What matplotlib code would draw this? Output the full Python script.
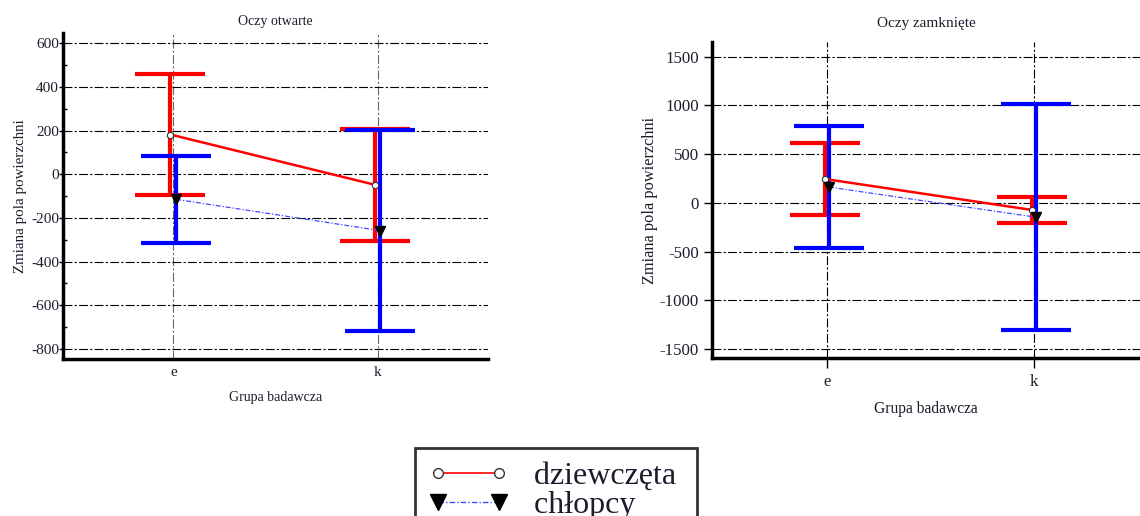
import matplotlib

matplotlib.use("Agg")
import matplotlib.pyplot as plt
from matplotlib.lines import Line2D
from matplotlib.ticker import MultipleLocator

plt.rcParams["font.family"] = ["Liberation Serif", "DejaVu Serif"]
plt.rcParams["axes.unicode_minus"] = False

# data
groups = ["e", "k"]

# Oczy otwarte (eyes open)
open_girls_mean = [182, -48]
open_girls_err = [277, 256]
open_boys_mean = [-115, -258]
open_boys_err = [201, 461]

# Oczy zamknięte (eyes closed)
closed_girls_mean = [246, -73]
closed_girls_err = [371, 137]
closed_boys_mean = [163, -147]
closed_boys_err = [626, 1158]

TEXT = "#1c1c2c"
RED = "#ff0000"
BLUE = "#0000ff"
BOYS_LS = (0, (4, 1.5, 1, 1.5))


def draw_panel(ax, g_mean, g_err, b_mean, b_err, off, vgrid_color, fs):
    x = [1, 2]
    xg = [v - off for v in x]
    xb = [v + off for v in x]
    ax.errorbar(xg, g_mean, yerr=g_err, fmt="none", ecolor=RED, elinewidth=3,
                capsize=25, capthick=3, zorder=3)
    ax.errorbar(xb, b_mean, yerr=b_err, fmt="none", ecolor=BLUE, elinewidth=3,
                capsize=25, capthick=3, zorder=3)
    ax.plot(xg, g_mean, color=RED, lw=1.8, zorder=4)
    ax.plot(xb, b_mean, color="#4848ff", lw=0.9, ls=BOYS_LS, zorder=4)
    ax.plot(xg, g_mean, ls="none", marker="o", ms=4.5, mfc="white", mec="#333333",
            mew=0.8, zorder=6)
    ax.plot(xb, b_mean, ls="none", marker="v", ms=6.5, mfc="black", mec="black", zorder=6)

    ax.set_xticks(x)
    ax.set_xticklabels(groups)
    ax.grid(axis="y", color="black", lw=0.8, ls=(0, (8, 2, 2, 2)), zorder=1)
    ax.grid(axis="x", color=vgrid_color, lw=0.8, ls=(0, (8, 2, 2, 2)), zorder=1)
    for s in ("top", "right"):
        ax.spines[s].set_visible(False)
    for s in ("left", "bottom"):
        ax.spines[s].set_linewidth(2.5)
    ax.tick_params(axis="y", direction="out", width=1, labelsize=fs + 1,
                   labelcolor=TEXT)
    ax.tick_params(axis="x", labelsize=fs + 1, labelcolor=TEXT)


fig = plt.figure(figsize=(11.4, 5.16), dpi=100)

ax1 = fig.add_axes([0.0553, 0.3043, 0.3727, 0.6317])
draw_panel(ax1, open_girls_mean, open_girls_err, open_boys_mean, open_boys_err,
           0.014, "#666666", 10)
ax1.set_title("Oczy otwarte", fontsize=10, color=TEXT, pad=6)
ax1.set_xlabel("Grupa badawcza", fontsize=10, color=TEXT, labelpad=9)
ax1.set_ylabel("Zmiana pola powierzchni", fontsize=10.8, color=TEXT, labelpad=3)
ax1.set_xlim(0.46, 2.54)
ax1.set_ylim(-846, 647)
ax1.set_yticks(range(-800, 601, 200))
ax1.yaxis.set_minor_locator(MultipleLocator(100))
ax1.tick_params(axis="y", which="major", length=3, pad=0)
ax1.tick_params(axis="y", which="minor", direction="in", length=3, width=1)
ax1.tick_params(axis="x", length=0, pad=5)

ax2 = fig.add_axes([0.6248, 0.3056, 0.3752, 0.6124])
draw_panel(ax2, closed_girls_mean, closed_girls_err, closed_boys_mean, closed_boys_err,
           0.01, "black", 11.2)
ax2.set_title("Oczy zamknięte", fontsize=11, color=TEXT, pad=11)
ax2.set_xlabel("Grupa badawcza", fontsize=11.2, color=TEXT, labelpad=8)
ax2.set_ylabel("Zmiana pola powierzchni", fontsize=11.8, color=TEXT, labelpad=1)
ax2.set_xlim(0.449, 2.509)
ax2.set_ylim(-1595, 1648)
ax2.set_yticks(range(-1500, 1501, 500))
ax2.tick_params(axis="y", length=6)
ax2.tick_params(axis="x", direction="out", length=7, width=1, pad=4)

handles = [
    Line2D([], [], color=RED, lw=1.2, marker="o", ms=7, mfc="white", mec="#333333"),
    Line2D([], [], color="#4848ff", lw=1.0, ls=BOYS_LS, marker="v", ms=11,
           mfc="black", mec="black"),
]
leg = fig.legend(handles, ["dziewczęta ", "chłopcy "], loc="upper left",
                 bbox_to_anchor=(415 / 1140, 1 - 448 / 516), numpoints=2,
                 handlelength=2.5, fontsize=23, frameon=True, fancybox=False,
                 borderpad=0.42, labelspacing=0.0, handletextpad=0.8,
                 borderaxespad=0)
leg.get_frame().set_edgecolor("black")
leg.get_frame().set_linewidth(2)
for t in leg.get_texts():
    t.set_color(TEXT)

fig.savefig("out.png", dpi=100)
plt.close(fig)
